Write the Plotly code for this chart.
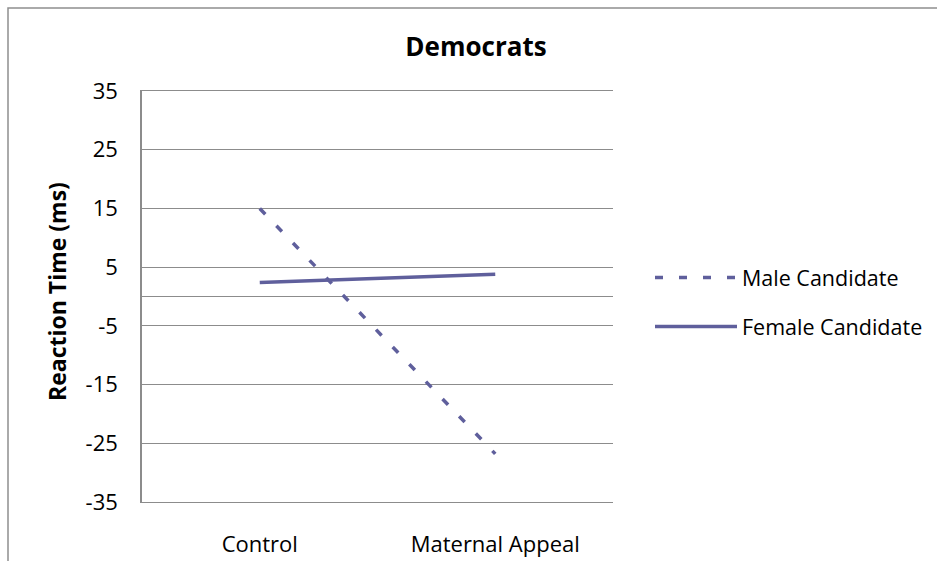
import plotly.graph_objects as go

# Chart data
conditions = ["Control", "Maternal Appeal"]
male_rt = [15.0, -26.8]
female_rt = [2.4, 3.8]
y_ticks = [-35, -25, -15, -5, 5, 15, 25, 35]

W, H = 937, 561
L, R, T, B = 142, 324, 91, 59
pw, ph = W - L - R, H - T - B


def px_x(x):
    return (x - L) / pw


def px_y(y):
    return (H - B - y) / ph


line_color = "#5f5f9c"
grid_color = "#8c8c8c"
font_family = "Open Sans, Noto Sans, sans-serif"

fig = go.Figure()
fig.add_trace(go.Scatter(
    x=conditions, y=male_rt, mode="lines", name="Male Candidate",
    line=dict(color=line_color, width=3.5, dash="8px,16px"),
    legendgroup="m",
))
fig.add_trace(go.Scatter(
    x=conditions, y=female_rt, mode="lines", name="Female Candidate",
    line=dict(color=line_color, width=3.5),
    legendgroup="f",
))

fig.update_layout(
    width=W, height=H,
    margin=dict(l=L, r=R, t=T, b=B, autoexpand=False),
    paper_bgcolor="white", plot_bgcolor="white",
    font=dict(family=font_family, color="#000000", size=22),
    title=dict(
        text="<b>Democrats</b>", x=476 / W, xref="container", xanchor="center",
        y=1 - 47 / H, yref="container", yanchor="middle",
        font=dict(size=26, family=font_family, color="#000000"),
    ),
    showlegend=True,
    legend=dict(
        x=px_x(650), xanchor="left", y=px_y(257), yanchor="top",
        font=dict(size=21.5, family=font_family, color="#000000"),
        itemwidth=82, tracegroupgap=18, traceorder="grouped",
        bgcolor="rgba(0,0,0,0)",
    ),
    xaxis=dict(
        showgrid=False, showline=True, mirror=True, linecolor=grid_color,
        linewidth=1, zeroline=False, ticks="", automargin=False,
        ticklabelstandoff=23, tickfont=dict(size=22),
        range=[-0.5, 1.5],
    ),
    yaxis=dict(
        range=[-35, 35], tickvals=y_ticks, ticktext=[str(v) for v in y_ticks],
        showgrid=True, gridcolor=grid_color, gridwidth=1, automargin=False,
        showline=True, linecolor=grid_color, linewidth=1.5,
        zeroline=True, zerolinecolor=grid_color, zerolinewidth=1,
        ticks="", ticklabelstandoff=18, tickfont=dict(size=22),
    ),
    shapes=[dict(
        type="rect", xref="paper", yref="paper",
        x0=px_x(8), x1=px_x(W + 20), y0=px_y(H + 20), y1=px_y(8),
        line=dict(color="#8e8e8e", width=1.5), fillcolor="rgba(0,0,0,0)",
        layer="below",
    )],
    annotations=[dict(
        text="<b>Reaction Time (ms)</b>", textangle=-90,
        xref="paper", yref="paper", x=px_x(57), y=px_y(292),
        xanchor="center", yanchor="middle", showarrow=False,
        font=dict(size=23, family=font_family, color="#000000"),
    )],
)

fig.write_html("out.html")
